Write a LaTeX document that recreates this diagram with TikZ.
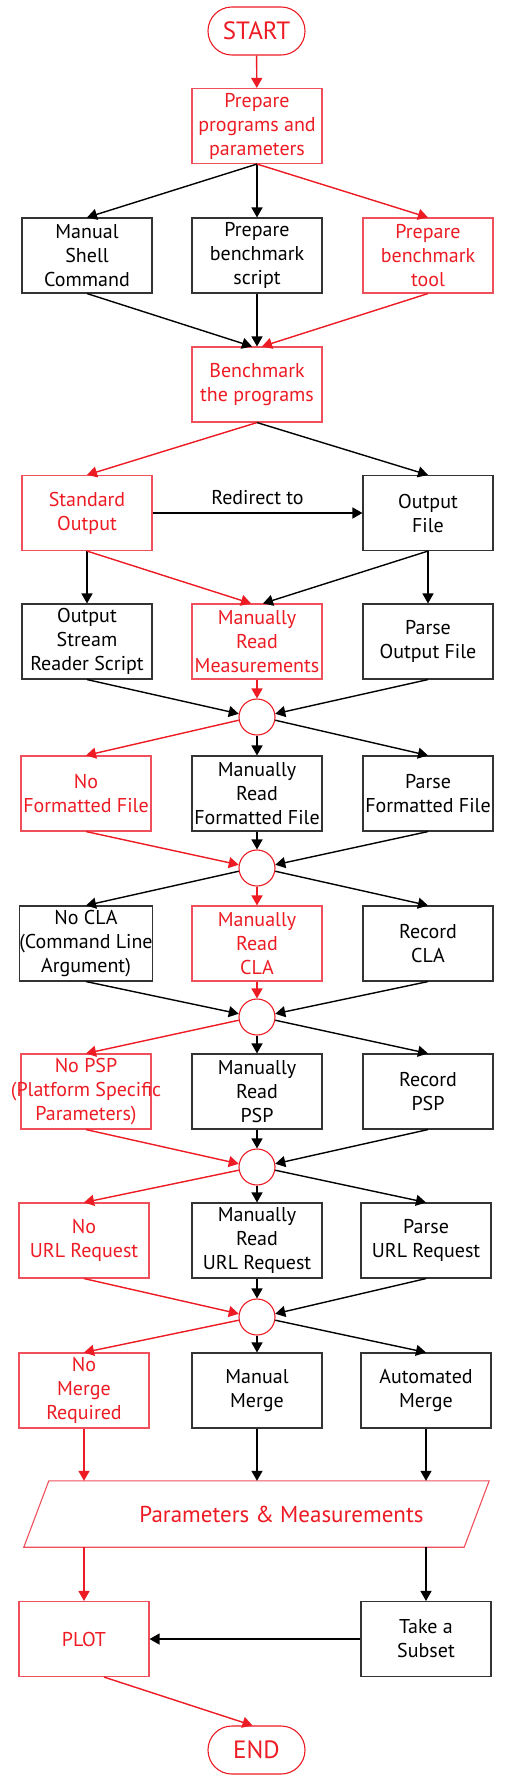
\documentclass[tikz,border=0pt]{standalone}
\usepackage{fontspec}
\setmainfont{PT Sans}
\usetikzlibrary{arrows.meta,calc}
\definecolor{fred}{HTML}{ED1C24}
\definecolor{bred}{HTML}{F0505C}
\definecolor{bblk}{HTML}{333333}
\begin{document}
\begin{tikzpicture}[x=1pt,y=-1pt,
  box/.style={draw=bblk, line width=1.1pt, minimum width=130pt, minimum height=75pt, align=center, font=\fontsize{20}{24}\selectfont, inner sep=0pt, text=black},
  rbox/.style={box, draw=bred, text=fred},
  term/.style={draw=fred, line width=1.1pt, rounded corners=23.9pt, minimum width=97pt, minimum height=48pt, text=fred, inner sep=0pt, font=\fontsize{25}{28}\selectfont},
  junc/.style={circle, draw=fred, minimum size=36pt, inner sep=0pt, line width=1.1pt},
  arr/.style={-{Triangle[length=10pt,width=11pt]}, line width=1.4pt, draw=black},
  rarr/.style={arr, draw=fred, fill=fred},
  lbl/.style={font=\fontsize{20}{24}\selectfont, text=black, inner sep=0pt}]
\useasboundingbox[fill=white] (0,0) rectangle (504,1780);

\node[term] (start) at (256.5,31) {START};
\node[rbox] (prep) at (257,126) {Prepare\\programs and\\parameters};
\node[box] (msc) at (87,255.5) {Manual\\Shell\\Command};
\node[box] (pbs) at (257,255.5) {Prepare\\benchmark\\script};
\node[rbox] (pbt) at (428,255.5) {Prepare\\benchmark\\tool};
\node[rbox] (bench) at (257,384.5) {Benchmark\\the programs};
\node[rbox] (stdout) at (87,513) {Standard\\Output};
\node[box] (outfile) at (428,513) {Output\\File};
\node[box] (osr) at (87,641.5) {Output\\Stream\\Reader Script};
\node[rbox] (mrm) at (257,641.5) {Manually\\Read\\Measurements};
\node[box] (pof) at (428,641.5) {Parse\\Output File};
\node[junc] (c1) at (257,717) {};
\node[rbox] (nff) at (86,793.5) {No\\Formatted File};
\node[box] (mrff) at (257,793.5) {Manually\\Read\\Formatted File};
\node[box] (pff) at (428,793.5) {Parse\\Formatted File};
\node[junc] (c2) at (257,868) {};
\node[box] (nocla) at (86,943.5) {No CLA\\(Command Line\\Argument)};
\node[rbox] (mrcla) at (257,943.5) {Manually\\Read\\CLA};
\node[box] (rcla) at (428,943.5) {Record\\CLA};
\node[junc] (c3) at (257,1017) {};
\node[rbox] (nopsp) at (86,1091.5) {No PSP\\\makebox[120pt][c]{(Platform Specific}\\Parameters)};
\node[box] (mrpsp) at (257,1091.5) {Manually\\Read\\PSP};
\node[box] (rpsp) at (428,1091.5) {Record\\PSP};
\node[junc] (c4) at (257,1167) {};
\node[rbox] (nourl) at (84,1240.5) {No\\URL Request};
\node[box] (mrurl) at (257,1240.5) {Manually\\Read\\URL Request};
\node[box] (purl) at (426,1240.5) {Parse\\URL Request};
\node[junc] (c5) at (257,1317) {};
\node[rbox] (nomerge) at (84,1390.5) {No\\Merge\\Required};
\node[box] (mmerge) at (257,1390.5) {Manual\\Merge};
\node[box] (amerge) at (426,1390.5) {Automated\\Merge};
\node[minimum width=465pt, minimum height=66pt, inner sep=0pt, text=fred, font=\fontsize{23}{26}\selectfont] (param) at (256.5,1514) {\hspace*{50pt}Parameters \& Measurements};
\draw[draw=bred, line width=1.1pt] ($(param.north west)+(25,0)$) -- (param.north east) -- ($(param.south east)+(-25,0)$) -- (param.south west) -- cycle;
\node[rbox] (plot) at (84,1639) {PLOT};
\node[box] (subset) at (426,1639) {Take a\\Subset};
\node[term] (end) at (256.5,1750) {END};

\draw[rarr] (start) -- (prep);
\draw[arr] (prep.south) -- (msc.north);
\draw[arr] (prep.south) -- (pbs.north);
\draw[rarr] (prep.south) -- (pbt.north);
\draw[arr] (msc.south) -- ([xshift=-5pt]bench.north);
\draw[arr] (pbs.south) -- (bench.north);
\draw[rarr] (pbt.south) -- ([xshift=5pt]bench.north);
\draw[rarr] (bench.south) -- (stdout.north);
\draw[arr] (bench.south) -- (outfile.north);
\draw[arr] (stdout.east) -- node[lbl, above=8pt] {Redirect to} (outfile.west);
\draw[arr] (stdout.south) -- (osr.north);
\draw[rarr] (stdout.south) -- ([xshift=-6pt]mrm.north);
\draw[arr] (outfile.south) -- ([xshift=6pt]mrm.north);
\draw[arr] (outfile.south) -- (pof.north);

\draw[arr] (osr.south) -- (c1.170);
\draw[rarr] (mrm.south) -- (c1.north);
\draw[arr] (pof.south) -- (c1.10);
\draw[rarr] (c1.190) -- (nff.north);
\draw[arr] (c1.south) -- (mrff.north);
\draw[arr] (c1.-10) -- (pff.north);

\draw[rarr] (nff.south) -- (c2.170);
\draw[arr] (mrff.south) -- (c2.north);
\draw[arr] (pff.south) -- (c2.10);
\draw[arr] (c2.190) -- (nocla.north);
\draw[rarr] (c2.south) -- (mrcla.north);
\draw[arr] (c2.-10) -- (rcla.north);

\draw[arr] (nocla.south) -- (c3.170);
\draw[rarr] (mrcla.south) -- (c3.north);
\draw[arr] (rcla.south) -- (c3.10);
\draw[rarr] (c3.190) -- (nopsp.north);
\draw[arr] (c3.south) -- (mrpsp.north);
\draw[arr] (c3.-10) -- (rpsp.north);

\draw[rarr] (nopsp.south) -- (c4.170);
\draw[arr] (mrpsp.south) -- (c4.north);
\draw[arr] (rpsp.south) -- (c4.10);
\draw[rarr] (c4.190) -- (nourl.north);
\draw[arr] (c4.south) -- (mrurl.north);
\draw[arr] (c4.-10) -- (purl.north);

\draw[rarr] (nourl.south) -- (c5.170);
\draw[arr] (mrurl.south) -- (c5.north);
\draw[arr] (purl.south) -- (c5.10);
\draw[rarr] (c5.190) -- (nomerge.north);
\draw[arr] (c5.south) -- (mmerge.north);
\draw[arr] (c5.-10) -- (amerge.north);

\draw[rarr] (nomerge.south) -- (nomerge.south |- param.north);
\draw[arr] (mmerge.south) -- (mmerge.south |- param.north);
\draw[arr] (amerge.south) -- (amerge.south |- param.north);
\draw[rarr] (plot.north |- param.south) -- (plot.north);
\draw[arr] (subset.north |- param.south) -- (subset.north);
\draw[arr] (subset.west) -- (plot.east);
\draw[rarr] ([xshift=20pt]plot.south) -- ([xshift=-4pt]end.north);
\end{tikzpicture}
\end{document}
